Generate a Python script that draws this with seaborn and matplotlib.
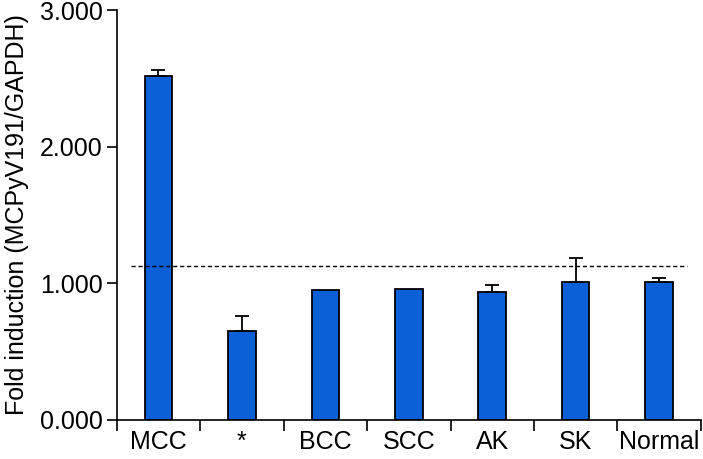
import numpy as np
import pandas as pd
import matplotlib
matplotlib.use("Agg")
import matplotlib.pyplot as plt
import seaborn as sns
from matplotlib.ticker import FormatStrFormatter, FixedLocator

# Data
groups = ["MCC", "*", "BCC", "SCC", "AK", "SK", "Normal"]
fold = [2.52, 0.653, 0.953, 0.958, 0.939, 1.007, 1.007]
err_up = [0.045, 0.11, 0.0, 0.0, 0.047, 0.18, 0.035]
cutoff = 1.129

sns.set_style("ticks", {"axes.edgecolor": "black", "text.color": "black",
                        "xtick.color": "black", "ytick.color": "black",
                        "axes.labelcolor": "black"})
plt.rcParams['font.family'] = ['Liberation Sans', 'DejaVu Sans']

fig = plt.figure(figsize=(7.03, 4.59), dpi=100)
ax = fig.add_axes([0.166, 0.085, 0.831, 0.893])

df = pd.DataFrame({"group": groups, "fold": fold})
sns.barplot(data=df, x="group", y="fold", color="#0b5fd7", saturation=1,
            width=0.33, edgecolor="black", linewidth=1.3, errorbar=None, ax=ax)

# upper-only error bars
err = np.array(err_up)
mask = err > 0
xs = np.arange(len(groups))
ax.errorbar(xs[mask], np.array(fold)[mask], yerr=[np.zeros(mask.sum()), err[mask]],
            fmt="none", ecolor="black", elinewidth=1.3, capsize=5, capthick=1.3)

# cutoff line
ax.hlines(cutoff, -0.33, 6.33, colors="black", linestyles=(0, (3, 2)), linewidth=1)

ax.set_xlim(-0.5, 6.5)
ax.set_ylim(0, 3)
ax.set_yticks([0, 1, 2, 3])
ax.yaxis.set_major_formatter(FormatStrFormatter("%.3f"))
ax.tick_params(axis="y", length=7, width=1.2, labelsize=18, direction="out", pad=3)
ax.tick_params(axis="x", which="major", length=0, labelsize=18, pad=7)
ax.xaxis.set_minor_locator(FixedLocator(np.arange(-0.5, 7.0, 1.0)))
ax.tick_params(axis="x", which="minor", length=8, width=1.2, direction="out")
ax.set_xlabel("")
ax.set_ylabel("Fold induction (MCPyV191/GAPDH)", fontsize=18, labelpad=8)

for s in ["top", "right"]:
    ax.spines[s].set_visible(False)
for s in ["left", "bottom"]:
    ax.spines[s].set_linewidth(1.2)

fig.savefig("out.png", dpi=100)
